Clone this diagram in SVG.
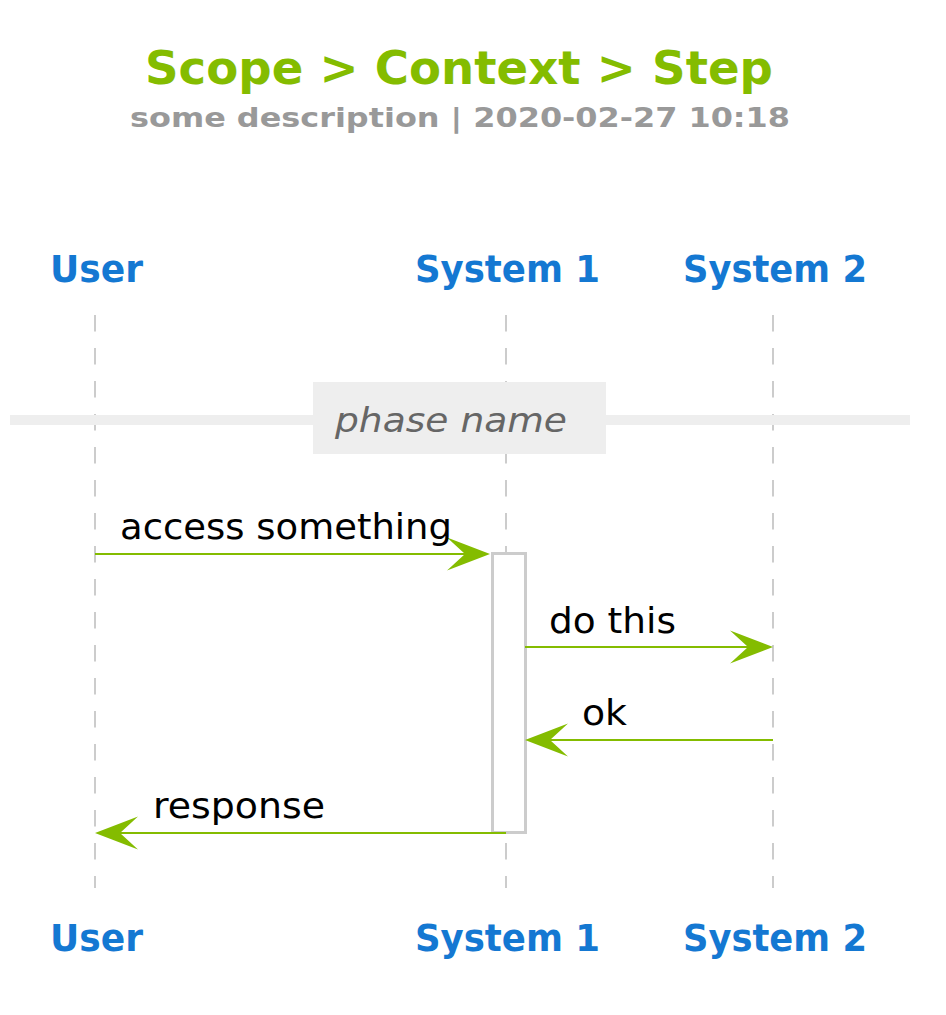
<svg xmlns="http://www.w3.org/2000/svg" width="946" height="1015" viewBox="0 0 946 1015">
<style>
.t{font-family:"DejaVu Sans","Liberation Sans",sans-serif}
.title{font-size:47px;font-weight:bold;fill:#84BC00}
.sub{font-size:27px;font-weight:bold;fill:#999999}
.part{font-size:37px;font-weight:bold;fill:#1478D2}
.msg{font-size:35px;fill:#000000}
.phase{font-size:34px;font-style:italic;fill:#666666}
.life{stroke:#cccccc;stroke-width:2;stroke-dasharray:16.5 16.5;fill:none}
.arr{stroke:#84BC00;stroke-width:2;fill:none}
.head{fill:#84BC00}
</style>
<rect width="946" height="1015" fill="#ffffff"/>
<g id="title">
<text class="t title" x="459" y="84" text-anchor="middle" textLength="628" lengthAdjust="spacingAndGlyphs">Scope &gt; Context &gt; Step</text>
<text class="t sub" x="460" y="127" text-anchor="middle" textLength="660" lengthAdjust="spacingAndGlyphs">some description | 2020-02-27 10:18</text>
</g>
<g id="lifelines">
<line class="life" x1="95" y1="315" x2="95" y2="888"/>
<line class="life" x1="506" y1="315" x2="506" y2="888"/>
<line class="life" x1="773" y1="315" x2="773" y2="888"/>
</g>
<g id="phase">
<rect x="10" y="415" width="900" height="10" fill="#eeeeee"/>
<rect x="313" y="382" width="293" height="72" fill="#eeeeee"/>
<text class="t phase" x="451" y="432" text-anchor="middle" textLength="232" lengthAdjust="spacingAndGlyphs">phase name</text>
</g>
<g id="participant-user">
<text class="t part" x="96.5" y="282" text-anchor="middle" textLength="93" lengthAdjust="spacingAndGlyphs">User</text>
<text class="t part" x="96.5" y="951" text-anchor="middle" textLength="93" lengthAdjust="spacingAndGlyphs">User</text>
</g>
<g id="participant-system1">
<text class="t part" x="507.5" y="282" text-anchor="middle" textLength="185" lengthAdjust="spacingAndGlyphs">System 1</text>
<text class="t part" x="507.5" y="951" text-anchor="middle" textLength="185" lengthAdjust="spacingAndGlyphs">System 1</text>
</g>
<g id="participant-system2">
<text class="t part" x="775" y="282" text-anchor="middle" textLength="184" lengthAdjust="spacingAndGlyphs">System 2</text>
<text class="t part" x="775" y="951" text-anchor="middle" textLength="184" lengthAdjust="spacingAndGlyphs">System 2</text>
</g>
<g id="activation-system1">
<rect x="492.5" y="553.5" width="33" height="279" fill="#ffffff" stroke="#cccccc" stroke-width="3"/>
</g>
<g id="connectors">
<line class="arr" x1="95" y1="554" x2="470" y2="554"/>
<polygon class="head" points="490,554 447,537.5 465,554 447,570.5"/>
<text class="t msg" x="120" y="539" textLength="332" lengthAdjust="spacingAndGlyphs">access something</text>
<line class="arr" x1="525" y1="647" x2="753" y2="647"/>
<polygon class="head" points="773,647 730,630.5 748,647 730,663.5"/>
<text class="t msg" x="549" y="633" textLength="127" lengthAdjust="spacingAndGlyphs">do this</text>
<line class="arr" x1="545" y1="740" x2="773" y2="740"/>
<polygon class="head" points="525,740 568,723.5 550,740 568,756.5"/>
<text class="t msg" x="582" y="725" textLength="45" lengthAdjust="spacingAndGlyphs">ok</text>
<line class="arr" x1="115" y1="833" x2="506" y2="833"/>
<polygon class="head" points="95,833 138,816.5 120,833 138,849.5"/>
<text class="t msg" x="153" y="818" textLength="172" lengthAdjust="spacingAndGlyphs">response</text>
</g>
</svg>
